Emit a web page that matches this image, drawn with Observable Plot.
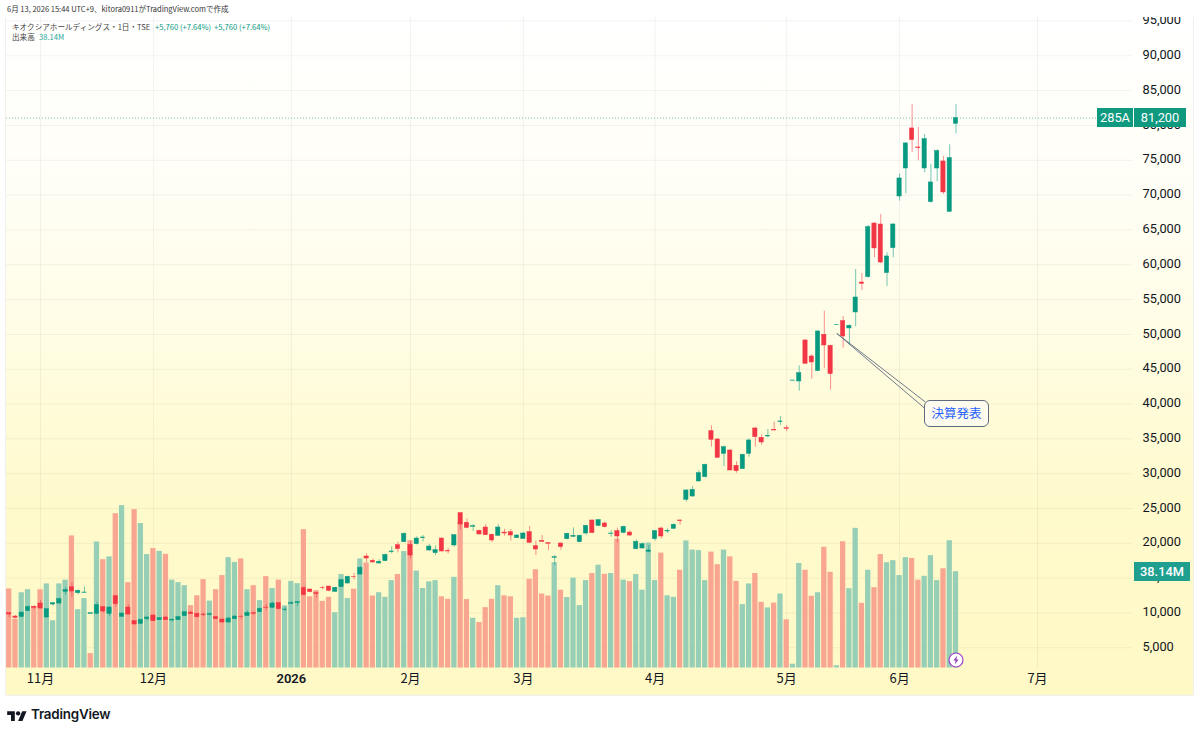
<!DOCTYPE html>
<html lang="ja">
<head>
<meta charset="utf-8">
<script src="https://cdn.jsdelivr.net/npm/d3@7"></script>
<script src="https://cdn.jsdelivr.net/npm/@observablehq/plot@0.6"></script>
<style>
html,body{margin:0;padding:0;background:#fff}
#page{position:relative;width:1200px;height:734px;overflow:hidden;background:#fff;font-family:"Noto Sans CJK JP","Noto Sans",sans-serif}
#panel{position:absolute;left:6px;top:17px;width:1187px;height:678px;background:linear-gradient(to bottom,#ffffff 0%,#fffef6 25%,#fffde6 45%,#fffacd 70%,#fff9c6 100%);box-shadow:0 0 0 1px #f0f0ee}
#chart{position:absolute;left:0;top:0}
#topmask{position:absolute;left:0;top:0;width:1200px;height:16.5px;background:#fff}
.t{position:absolute;white-space:nowrap;line-height:1}
.tag{position:absolute;color:#fff;text-align:center;font-family:Roboto,"Noto Sans",sans-serif;font-size:12.8px}
#callout{position:absolute;left:924px;top:400px;width:63px;height:25px;line-height:24px;text-align:center;background:#fdfbee;border:1px solid #5f6b7d;border-radius:6px;color:#2962ff;font-size:12.5px}
#bolt{position:absolute;left:948px;top:652px;width:16px;height:16px}
#logo{position:absolute;left:7px;top:709px;width:20px;height:12px}
</style>
</head>
<body>
<div id="page">
  <div id="panel"></div>
  <div id="chart"></div>
  <div id="topmask"></div>
  <div class="t" style="left:7px;top:5px;font-size:7.5px;color:#333">6月 13, 2026 15:44 UTC+9、kitora0911がTradingView.comで作成</div>
  <div class="t" style="left:12px;top:23px;font-size:7.6px;color:#444">キオクシアホールディングス・1日・TSE</div>
  <div class="t" style="left:155px;top:23px;font-size:7.6px;color:#089981">+5,760 (+7.64%)</div>
  <div class="t" style="left:214px;top:23px;font-size:7.6px;color:#089981">+5,760 (+7.64%)</div>
  <div class="t" style="left:12px;top:33px;font-size:7.6px;color:#444">出来高</div>
  <div class="t" style="left:39px;top:33px;font-size:7.6px;color:#26a69a">38.14M</div>
  <div class="tag" style="left:1097px;top:108px;width:36px;height:19px;line-height:19px;background:#0f9a80">285A</div>
  <div class="tag" style="left:1134px;top:108px;width:52px;height:19px;line-height:19px;background:#0f9a80">81,200</div>
  <div class="tag" style="left:1134px;top:562px;width:56px;height:19px;line-height:19px;background:#1f9f90;font-weight:500">38.14M</div>
  <div id="callout">決算発表</div>
  <svg id="bolt" viewBox="0 0 16 16"><circle cx="8" cy="8" r="7" fill="#fff" stroke="#9c3fc4" stroke-width="1.2"/><path d="M9.3 3.4 5.4 8.6h2.3l-1 4 3.9-5.2H8.3z" fill="#8e3ab5"/></svg>
  <svg id="logo" viewBox="0 0 36 22"><path fill="#131722" d="M14 22H7V11H0V4h14v18zM28 22h-8l7.5-18h8L28 22z"/><circle cx="20" cy="8" r="4" fill="#131722"/></svg>
  <div class="t" style="left:31px;top:708px;font-size:13.4px;font-weight:600;color:#131722;font-family:Inter,Roboto,sans-serif;letter-spacing:-.2px">TradingView</div>
</div>
<script>
const opens=[9970,9490,9440,10260,10880,11360,9350,11210,11360,13030,
13700,12840,12890,9870,9870,10830,9870,12410,9440,10780,
8820,8440,9110,9640,8960,9350,8920,8960,9540,10060,
9870,9780,9730,9400,9060,8630,9110,9440,9540,9970,
10110,10780,10740,11410,10450,11310,11410,13560,13370,12840,
13610,13800,13030,13700,14230,15190,15520,18110,17490,17100,
17440,18730,19740,20170,19780,19880,20740,18970,18590,20690,
18870,19690,24330,22940,22370,21790,22270,21220,21080,21550,
21600,20740,20640,21600,19590,20360,20020,17920,19980,20600,
20930,20170,21410,23280,22510,22850,21360,21750,21510,21550,
19160,19260,18780,20600,22130,21700,22080,23280,26250,26720,
28880,29500,36110,34910,32850,33330,31130,30650,32850,36490,
35150,35340,36300,37400,36540,43340,43240,49130,46830,44720,
49940,48360,51330,51900,50850,53150,57450,58220,65920,65780,
58800,62380,69800,73820,79570,76840,73820,68990,73820,74830,
67600,80240];
const highs=[9970,9640,10110,11020,11070,11790,10540,11500,12170,13700,
14330,13320,13750,9970,11550,10930,10930,12510,10020,11210,
8920,9110,9440,9730,9350,9540,9200,9490,10210,10210,
10020,9970,10020,9440,9160,9400,9590,9680,10300,10110,
10740,11210,11550,11500,10830,11650,11650,13800,13420,13030,
13850,13800,13700,14850,15280,15670,16670,18490,17770,17630,
18440,19500,20170,21510,20310,20930,21120,19830,19640,20740,
19300,21220,24380,23520,22660,21890,22660,21320,22660,22030,
21990,21270,21550,22420,20310,21120,20020,18250,20020,21460,
22220,21170,22610,23330,23420,23090,21790,22180,22460,21790,
20500,20070,19690,21840,22320,22080,22800,23370,27680,28160,
30410,31370,36870,35050,33950,33430,31700,32800,35010,36680,
35580,36350,37400,38210,36920,43380,45490,49220,47070,50560,
53340,48460,51380,52570,51380,59320,58750,65640,66020,67220,
61710,65880,73010,77510,83010,79710,78700,74400,76500,75550,
77220,83010];
const lows=[9300,9160,9300,10210,10450,10540,9250,10970,11210,12550,
12270,12600,12840,9870,9830,9970,9490,10830,9400,9680,
8340,8340,8820,8820,8920,8920,8680,8920,9490,9780,
9300,9490,9540,9060,8580,8530,9060,9110,9490,9680,
10060,10350,10690,10450,10160,11210,10930,12460,12890,12120,
13320,13030,12990,13660,14180,14760,15480,17250,17150,17050,
17390,18490,18630,20120,17770,19780,20210,18870,18250,18730,
18490,19450,21940,22080,21700,21220,21120,20120,21030,21030,
20310,20690,20600,19980,18250,20120,18970,16820,19020,20500,
20880,20070,21170,21410,22420,22220,20880,20020,21360,20980,
19070,19160,18630,20310,20640,21410,21990,22610,25910,26630,
28830,29400,33810,32180,31030,30410,30080,30600,32370,33810,
34100,35150,36150,36920,36010,43340,41850,45730,43570,44680,
45060,42000,51330,48030,48360,51090,56300,58080,61000,60130,
56880,61000,69130,70180,76120,74920,73200,68850,71910,70090,
67500,78800];
const closes=[9780,9300,10060,10830,10740,10640,10540,11410,11980,13320,
13080,13180,12940,9970,11120,10210,10780,11260,9920,9780,
8340,9010,9350,8820,9250,8960,9010,9400,10110,9830,
9400,9680,9830,9110,8630,9200,9490,9400,10020,9870,
10590,10740,11360,10540,10500,11410,11550,12550,12990,12700,
13560,13180,13610,14710,15190,15140,16480,17820,17250,17340,
18350,18830,19160,21360,18250,20690,20840,19540,19020,18830,
18830,21170,22700,22220,22460,21270,21170,20410,22270,21410,
21120,21120,21410,20070,19110,20210,19930,18010,19450,21360,
21080,21080,22510,21460,23330,22320,21410,20980,22370,21120,
20210,19880,18970,21750,20980,21790,22660,23180,27590,27680,
30080,31270,34860,32280,33810,30460,30360,32710,34770,35250,
34480,35440,36200,37500,36440,43380,44440,45780,45970,50420,
48410,44290,51380,49700,51230,55300,57260,65400,62340,60320,
61190,65780,72390,77420,77900,76740,78040,71820,76320,70380,
75310,81050];
// Volume, millions of shares
const volumes=[31.3,19.3,29.8,31.0,24.3,31.0,33.3,18.7,33.3,34.8,
52.3,23.1,27.5,5.7,49.9,42.9,44.0,61.1,64.3,33.8,
62.7,57.2,44.9,47.3,46.2,45.0,34.8,33.8,32.6,24.7,
28.6,35.0,26.5,31.0,36.6,43.7,41.8,43.2,31.0,32.6,
26.7,36.2,31.5,34.8,24.6,34.3,33.4,54.8,28.2,30.6,
26.4,28.0,21.9,37.0,27.5,31.2,43.2,41.6,28.5,29.8,
28.0,34.6,37.0,46.1,50.4,38.4,31.5,34.1,34.6,28.2,
27.2,35.9,57.7,27.1,19.7,18.0,23.9,27.2,32.6,28.6,
28.2,19.7,19.9,35.1,38.9,29.3,28.5,41.7,30.8,27.9,
35.6,24.7,34.6,37.4,40.7,37.1,37.4,51.0,34.8,34.2,
37.0,30.8,49.5,34.6,45.5,28.6,28.0,38.7,50.3,46.7,
46.5,34.6,45.9,40.9,46.7,44.0,34.3,25.1,33.3,37.4,
26.0,23.8,25.7,29.3,19.1,1.5,41.4,38.7,28.4,29.8,
47.8,37.9,0.9,50.0,31.4,55.3,25.6,38.7,31.8,44.9,
41.7,42.5,36.6,43.7,43.4,34.8,36.3,44.5,34.6,39.3,
50.4,38.14];
// Sessions whose volume bar is red although the candle closed up
const redVolumeSessions=[13];
const priceTicks=[5000,10000,15000,20000,25000,30000,35000,40000,45000,50000,55000,60000,65000,70000,75000,80000,85000,90000,95000];
const monthTickSessions=[5,23,64,82,103,124,142,164];
const monthTickLabels=["11月","12月","2月","3月","4月","5月","6月","7月"];
const yearTickSessions=[45];
const yearTickLabels=["2026"];
const lastPriceLine=[81050];
const earningsSession=132;

const candles=opens.map((open,i)=>({i,open,high:highs[i],low:lows[i],close:closes[i],up:closes[i]>=open}));
const volumeRows=volumes.map((v,i)=>({i,v,up:candles[i].up&&!redVolumeSessions.includes(i)}));

const priceFloor=2100;          // price level sitting on the volume baseline
const pricePerMillion=362.6;    // overlays volume on the price axis
const GREEN="#089981",RED="#f23645";
const gridLeft=-0.43,gridRight=179.15;
const calloutEnds=[{x:146.1,y:40300},{x:146.0,y:39400}];

const chart=Plot.plot({
  width:1200,height:734,
  marginLeft:6,marginRight:68,marginTop:17,marginBottom:66.5,
  style:{background:"transparent",fontFamily:'Roboto,"Noto Sans CJK JP",sans-serif',color:"#131722"},
  x:{type:"linear",domain:[gridLeft,gridRight]},
  y:{type:"linear",domain:[priceFloor,95500]},
  marks:[
    Plot.ruleY(priceTicks,{y:d=>d,x1:gridLeft,x2:gridRight,stroke:"#000",strokeOpacity:.05}),
    Plot.ruleX([...monthTickSessions,...yearTickSessions],{x:d=>d,stroke:"#000",strokeOpacity:.05}),
    Plot.rect(volumeRows,{x1:d=>d.i-.42,x2:d=>d.i+.42,y1:priceFloor,y2:d=>priceFloor+d.v*pricePerMillion,fill:d=>d.up?"#96cfb5":"#f8a691"}),
    Plot.ruleY(lastPriceLine,{y:d=>d,x1:gridLeft,x2:gridRight,stroke:GREEN,strokeDasharray:"1 2",strokeOpacity:.55}),
    Plot.ruleX(candles,{x:"i",y1:"low",y2:"high",stroke:d=>d.up?GREEN:RED,strokeOpacity:.55,strokeWidth:1}),
    Plot.rect(candles,{x1:d=>d.i-.34,x2:d=>d.i+.34,y1:"open",y2:"close",fill:d=>d.up?GREEN:RED,stroke:d=>d.up?GREEN:RED,strokeWidth:.5}),
    Plot.link(calloutEnds,{x1:earningsSession,y1:50130,x2:"x",y2:"y",stroke:"#6f7a8a",strokeWidth:1}),
    Plot.axisY(priceTicks,{anchor:"right",tickSize:0,tickPadding:10,dy:-1,tickFormat:d3.format(","),label:null,fontSize:12.8,fill:"#131722"}),
    Plot.axisX(monthTickSessions,{anchor:"bottom",tickSize:0,tickPadding:6,tickFormat:d=>monthTickLabels[monthTickSessions.indexOf(d)],label:null,fontSize:13,fontFamily:'"Noto Sans CJK JP",sans-serif',fill:"#131722"}),
    Plot.axisX(yearTickSessions,{anchor:"bottom",tickSize:0,tickPadding:6,tickFormat:d=>yearTickLabels[yearTickSessions.indexOf(d)],label:null,fontSize:13,fontWeight:600,fill:"#131722"})
  ]
});
document.getElementById("chart").appendChild(chart);
</script>
</body>
</html>
